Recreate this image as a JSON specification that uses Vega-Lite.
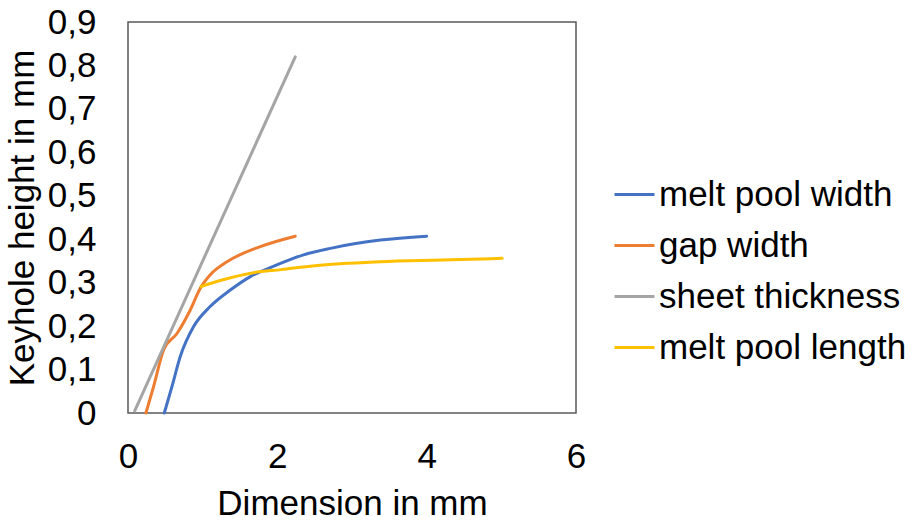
{
  "$schema": "https://vega.github.io/schema/vega-lite/v6.json",
  "width": 448,
  "height": 391,
  "autosize": {"type": "none"},
  "padding": {"left": 128, "top": 22, "right": 338, "bottom": 107},
  "config": {
    "font": "Liberation Sans",
    "view": {"stroke": "#595959", "strokeWidth": 1.5},
    "axis": {"grid": false, "domain": false, "ticks": false, "tickSize": 0, "labelFlush": false, "labelOverlap": false, "labelFontSize": 35, "titleFontSize": 35, "labelColor": "#000000", "titleColor": "#000000", "titleFontWeight": "normal", "labelFont": "Liberation Sans", "titleFont": "Liberation Sans"},
    "legend": {"labelFont": "Liberation Sans", "labelColor": "#000000"}
  },
  "data": {
    "values": [
      {"series": "melt pool width", "x": 0.486, "y": 0.0},
      {"series": "melt pool width", "x": 0.589, "y": 0.061},
      {"series": "melt pool width", "x": 0.70, "y": 0.13},
      {"series": "melt pool width", "x": 0.879, "y": 0.199},
      {"series": "melt pool width", "x": 1.10, "y": 0.245},
      {"series": "melt pool width", "x": 1.37, "y": 0.283},
      {"series": "melt pool width", "x": 1.638, "y": 0.314},
      {"series": "melt pool width", "x": 1.995, "y": 0.341},
      {"series": "melt pool width", "x": 2.35, "y": 0.364},
      {"series": "melt pool width", "x": 2.71, "y": 0.379},
      {"series": "melt pool width", "x": 3.38, "y": 0.398},
      {"series": "melt pool width", "x": 4.0, "y": 0.407},
      {"series": "gap width", "x": 0.24, "y": 0.0},
      {"series": "gap width", "x": 0.343, "y": 0.061},
      {"series": "gap width", "x": 0.477, "y": 0.145},
      {"series": "gap width", "x": 0.656, "y": 0.183},
      {"series": "gap width", "x": 0.834, "y": 0.237},
      {"series": "gap width", "x": 0.968, "y": 0.287},
      {"series": "gap width", "x": 1.102, "y": 0.318},
      {"series": "gap width", "x": 1.326, "y": 0.348},
      {"series": "gap width", "x": 1.772, "y": 0.383},
      {"series": "gap width", "x": 2.24, "y": 0.407},
      {"series": "sheet thickness", "x": 0.09, "y": 0.005},
      {"series": "sheet thickness", "x": 2.24, "y": 0.82},
      {"series": "melt pool length", "x": 0.977, "y": 0.291},
      {"series": "melt pool length", "x": 1.236, "y": 0.305},
      {"series": "melt pool length", "x": 1.682, "y": 0.323},
      {"series": "melt pool length", "x": 2.05, "y": 0.33},
      {"series": "melt pool length", "x": 2.5, "y": 0.339},
      {"series": "melt pool length", "x": 3.38, "y": 0.348},
      {"series": "melt pool length", "x": 4.2, "y": 0.352},
      {"series": "melt pool length", "x": 5.01, "y": 0.356}
    ]
  },
  "mark": {"type": "line", "strokeWidth": 3, "interpolate": "monotone", "strokeCap": "round"},
  "encoding": {
    "x": {
      "field": "x", "type": "quantitative",
      "scale": {"domain": [0, 6], "nice": false},
      "axis": {"values": [0, 2, 4, 6], "title": "Dimension in mm", "labelPadding": 26, "titleBaseline": "alphabetic", "titleY": 101}
    },
    "y": {
      "field": "y", "type": "quantitative",
      "scale": {"domain": [0, 0.9], "nice": false},
      "axis": {
        "values": [0, 0.1, 0.2, 0.3, 0.4, 0.5, 0.6, 0.7, 0.8, 0.9],
        "labelExpr": "datum.value == 0 ? '0' : replace(format(datum.value, '.1f'), '.', ',')",
        "labelPadding": 32,
        "title": "Keyhole height in mm",
        "titleBaseline": "alphabetic",
        "titleX": -95
      }
    },
    "color": {
      "field": "series", "type": "nominal",
      "scale": {
        "domain": ["melt pool width", "gap width", "sheet thickness", "melt pool length"],
        "range": ["#4472C4", "#ED7D31", "#A5A5A5", "#FFC000"]
      },
      "legend": {
        "title": null,
        "orient": "none",
        "legendX": 485,
        "legendY": 151,
        "symbolType": "stroke",
        "symbolSize": 1600,
        "symbolStrokeWidth": 3,
        "labelFontSize": 35,
        "labelOffset": 3,
        "rowPadding": 11,
        "labelLimit": 400
      }
    }
  }
}
